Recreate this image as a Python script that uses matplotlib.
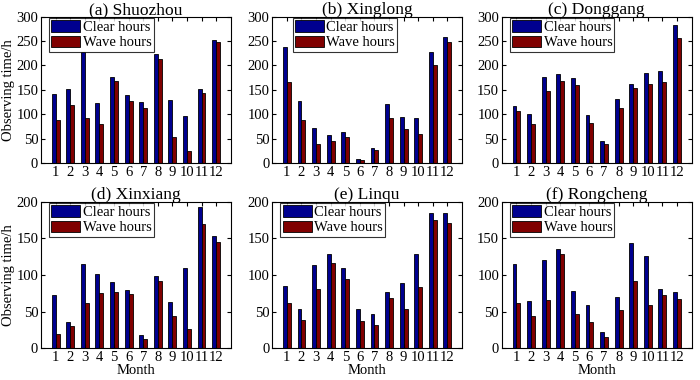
import numpy as np
import matplotlib
matplotlib.use("Agg")
import matplotlib.pyplot as plt

plt.rcParams['font.family'] = ['Liberation Serif', 'DejaVu Serif']
plt.rcParams['font.size'] = 10.5

months = list(range(1, 13))
stations = ["(a) Shuozhou", "(b) Xinglong", "(c) Donggang",
            "(d) Xinxiang", "(e) Linqu", "(f) Rongcheng"]

clear_shuozhou = [142, 151, 228, 124, 176, 139, 126, 224, 130, 97, 151, 252]
wave_shuozhou = [88, 118, 93, 81, 168, 128, 112, 213, 54, 25, 143, 248]
clear_xinglong = [238, 128, 71, 57, 63, 9, 30, 121, 94, 92, 228, 258]
wave_xinglong = [166, 89, 40, 46, 53, 7, 26, 92, 69, 60, 201, 249]
clear_donggang = [116, 101, 176, 182, 174, 99, 45, 131, 163, 184, 188, 283]
wave_donggang = [106, 79, 148, 169, 161, 82, 40, 113, 153, 163, 167, 257]
clear_xinxiang = [72, 36, 115, 101, 91, 79, 18, 98, 63, 109, 193, 153]
wave_xinxiang = [19, 30, 61, 75, 77, 74, 12, 92, 44, 26, 169, 145]
clear_linqu = [85, 53, 114, 129, 109, 53, 47, 77, 89, 129, 184, 184]
wave_linqu = [61, 39, 81, 116, 95, 37, 31, 69, 54, 84, 175, 171]
clear_rongcheng = [115, 65, 120, 135, 78, 59, 22, 70, 144, 126, 81, 77]
wave_rongcheng = [61, 44, 66, 128, 46, 36, 15, 52, 92, 59, 72, 67]

clear_all = [clear_shuozhou, clear_xinglong, clear_donggang,
             clear_xinxiang, clear_linqu, clear_rongcheng]
wave_all = [wave_shuozhou, wave_xinglong, wave_donggang,
            wave_xinxiang, wave_linqu, wave_rongcheng]

blue = "#00008F"
red = "#800000"

fig = plt.figure(figsize=(7, 3.8), dpi=100)
lefts = [0.0586, 0.389, 0.717]
bottoms = [0.571, 0.084]
w, h = 0.271, 0.385
x = np.array(months)
bw = 0.27

for i in range(6):
    r, c = divmod(i, 3)
    ax = fig.add_axes([lefts[c], bottoms[r], w, h])
    ax.bar(x - bw / 2, clear_all[i], width=bw, color=blue, edgecolor="black",
           linewidth=0.6, label="Clear hours")
    ax.bar(x + bw / 2, wave_all[i], width=bw, color=red, edgecolor="black",
           linewidth=0.6, label="Wave hours")
    ax.set_xlim(0, 13)
    ax.set_xticks(months)
    if r == 0:
        ax.set_ylim(0, 300)
        ax.set_yticks(range(0, 301, 50))
    else:
        ax.set_ylim(0, 200)
        ax.set_yticks(range(0, 201, 50))
        ax.set_xlabel("Month", labelpad=0)
    if c == 0:
        ax.set_ylabel("Observing time/h", labelpad=1, fontsize=10.5)
    ax.tick_params(direction="in", top=True, right=True, length=3, pad=2)
    ax.set_title(stations[i], pad=2)
    for s in ax.spines.values():
        s.set_linewidth(0.8)
    anchor = (0.1, 1.0) if i == 1 else (0.035, 1.0)
    leg = ax.legend(loc="upper left", bbox_to_anchor=anchor, frameon=True,
                    fancybox=False, borderaxespad=0.1, handlelength=2.0,
                    handleheight=0.8, handletextpad=0.15, borderpad=0.15,
                    labelspacing=0.12, edgecolor="black", fontsize=10.5)
    leg.get_frame().set_linewidth(0.8)

fig.savefig("out.png", dpi=100)
